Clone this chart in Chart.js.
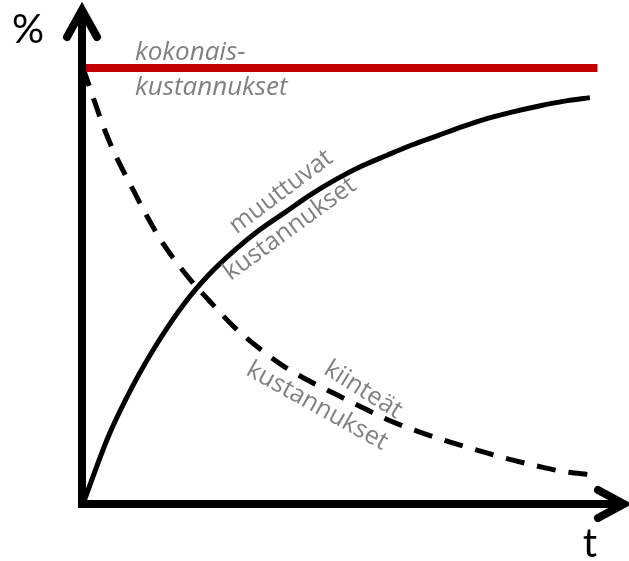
<!DOCTYPE html>
<html>
<head>
<meta charset="utf-8">
<script src="https://cdn.jsdelivr.net/npm/chart.js@4/dist/chart.umd.min.js"></script>
<style>
  body { margin: 0; background: #fff; }
  canvas { display: block; }
</style>
</head>
<body>
<canvas id="costChart" width="629" height="561"></canvas>
<script>
// Time points (t)
const timePoints = [0, 0.5, 1, 1.5, 2, 2.5, 3, 3.5, 4, 4.5, 5, 5.5, 6, 6.5, 7, 7.5, 8, 8.5, 9, 9.5, 10];
// Variable costs (%), rising curve
const variableCosts = [0, 15.5, 27.5, 37.5, 46, 52.8, 58.3, 63, 67, 71, 74.5, 77.5, 80, 82.4, 84.5, 86.6, 88.5, 90, 91.3, 92.4, 93.2];
// Fixed costs (%), falling dashed curve
const fixedCosts = [100, 83.7, 71.8, 61.2, 53.1, 46.5, 40.4, 35.5, 31.3, 28, 25.1, 22.2, 19.4, 17.1, 15.1, 13.3, 11.6, 10, 8.6, 7.4, 6.7];
// Total costs (%), flat red line
const totalTimes = [0, 10.15];
const totalCosts = [100, 100];

const axisLabels = { y: '%', x: 't' };

// Turn two arrays into {x, y} points
function toPoints(xs, ys) {
    return xs.map((x, i) => ({ x: x, y: ys[i] }));
}

// Plugin that draws the arrow axes and the text labels
const sketchPlugin = {
    id: 'sketch',
    afterDatasetsDraw(chart) {
        const ctx = chart.ctx;
        const xs = chart.scales.x;
        const ys = chart.scales.y;
        const x0 = xs.getPixelForValue(0) - 1;
        const y0 = ys.getPixelForValue(0);
        const topTip = 8;
        const rightTip = chart.width - 3;

        ctx.save();
        ctx.strokeStyle = '#000';
        ctx.lineWidth = 8;
        ctx.lineCap = 'butt';

        // vertical axis
        ctx.beginPath();
        ctx.moveTo(x0, y0 + 4);
        ctx.lineTo(x0, topTip + 4);
        ctx.stroke();
        // horizontal axis
        ctx.beginPath();
        ctx.moveTo(x0 - 4, y0);
        ctx.lineTo(rightTip - 4, y0);
        ctx.stroke();

        // arrow heads
        ctx.lineCap = 'round';
        ctx.lineJoin = 'miter';
        ctx.beginPath();
        ctx.moveTo(x0 - 15, topTip + 29);
        ctx.lineTo(x0, topTip + 2);
        ctx.lineTo(x0 + 15, topTip + 29);
        ctx.stroke();
        ctx.beginPath();
        ctx.moveTo(rightTip - 28, y0 - 14);
        ctx.lineTo(rightTip - 2, y0);
        ctx.lineTo(rightTip - 28, y0 + 14);
        ctx.stroke();

        // axis labels
        ctx.fillStyle = '#000';
        ctx.font = '40px Lato';
        ctx.textAlign = 'center';
        ctx.textBaseline = 'alphabetic';
        ctx.fillText(axisLabels.y, 28, 43);
        ctx.fillText(axisLabels.x, 590, 557);

        // total costs label
        ctx.fillStyle = '#808080';
        ctx.font = 'italic 26px "Open Sans"';
        ctx.textAlign = 'left';
        ctx.fillText('kokonais-', 135, 60);
        ctx.fillText('kustannukset', 135, 95);

        // rotated labels
        ctx.font = '25px "Open Sans"';
        ctx.textAlign = 'center';
        ctx.textBaseline = 'middle';
        const rotated = [
            ['muuttuvat', 281, 192, -37],
            ['kustannukset', 290, 229, -36],
            ['kiinteät', 363, 390, 32],
            ['kustannukset', 317, 406, 29]
        ];
        rotated.forEach(([text, x, y, angle]) => {
            ctx.save();
            ctx.translate(x, y);
            ctx.rotate(angle * Math.PI / 180);
            ctx.fillText(text, 0, 0);
            ctx.restore();
        });
        ctx.restore();
    }
};

const ctx = document.getElementById('costChart').getContext('2d');
new Chart(ctx, {
    type: 'line',
    data: {
        datasets: [
            {
                label: 'kokonaiskustannukset',
                data: toPoints(totalTimes, totalCosts),
                borderColor: '#c00000',
                borderWidth: 8,
                pointRadius: 0,
                clip: false
            },
            {
                label: 'muuttuvat kustannukset',
                data: toPoints(timePoints, variableCosts),
                borderColor: '#000',
                borderWidth: 5,
                pointRadius: 0,
                cubicInterpolationMode: 'monotone',
                clip: false
            },
            {
                label: 'kiinteät kustannukset',
                data: toPoints(timePoints, fixedCosts),
                borderColor: '#000',
                borderWidth: 5,
                borderDash: [19, 13],
                pointRadius: 0,
                cubicInterpolationMode: 'monotone',
                clip: false
            }
        ]
    },
    options: {
        responsive: false,
        animation: false,
        layout: { padding: { left: 83, right: 29, top: 68, bottom: 57 } },
        plugins: {
            legend: { display: false },
            tooltip: { enabled: false }
        },
        scales: {
            x: { type: 'linear', min: 0, max: 10.2, display: false },
            y: { type: 'linear', min: 0, max: 100, display: false }
        }
    },
    plugins: [sketchPlugin]
});
</script>
</body>
</html>
